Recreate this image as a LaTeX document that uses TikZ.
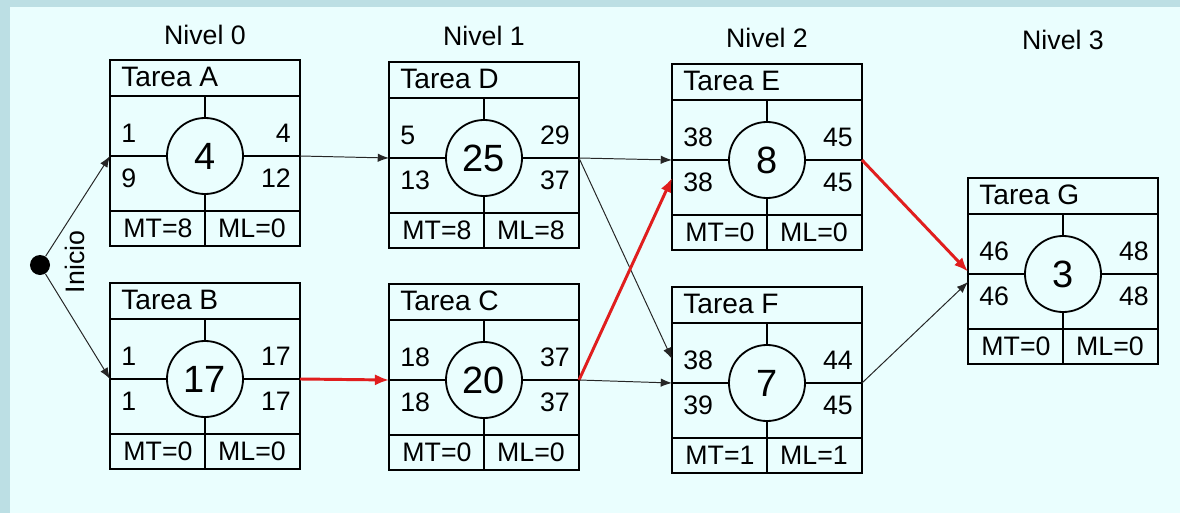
\documentclass[tikz,border=0pt]{standalone}
\usepackage{fontspec}
\setmainfont{Liberation Sans}
\usetikzlibrary{arrows.meta}

\definecolor{marco}{HTML}{BCDFE4}
\definecolor{fondo}{HTML}{EAFEFE}
\definecolor{critico}{HTML}{E01E1E}

% one task box: letter, centre, duration, the four times, MT, ML
\newcommand{\tarea}[9]{%
  \begin{scope}[shift={(#2)}]
    \draw[caja] (-95,-96) rectangle (95,90);
    \draw[caja] (-95,-60) -- (95,-60) (-95,55) -- (95,55);
    \draw[caja] (0,-60) -- (0,90) (-95,0) -- (95,0);
    \node[dur] (#1-c) at (0,0) {#3};
    \node[tit] (#1-t) at (-84,-79) {Tarea #1};
    \node[num,anchor=west] (#1-ic) at (-84,-23) {#4};
    \node[num,anchor=east] (#1-fc) at (86,-23) {#5};
    \node[num,anchor=west] (#1-it) at (-84,22) {#6};
    \node[num,anchor=east] (#1-ft) at (86,22) {#7};
    \node[num] (#1-mt) at (-47,72) {MT=#8};
    \node[num] (#1-ml) at (47,72) {ML=#9};
    \coordinate (#1-in) at (-95,0);
    \coordinate (#1-out) at (95,0);
  \end{scope}}

\begin{document}
\begin{tikzpicture}[x=0.025cm, y=-0.025cm,
  caja/.style={line width=1.3pt},
  dur/.style={circle, draw, line width=1.3pt, fill=fondo, minimum size=1.9cm,
    inner sep=0pt, font=\fontsize{27}{30}\selectfont},
  tit/.style={anchor=west, inner sep=0pt, font=\fontsize{20}{24}\selectfont},
  num/.style={inner sep=0pt, font=\fontsize{19}{22}\selectfont},
  nivel/.style={font=\fontsize{19}{22}\selectfont},
  flecha/.style={-{Latex[length=8pt,width=6pt]}, line width=0.7pt, black!85},
  ruta/.style={-{Latex[length=10pt,width=8pt]}, line width=2.1pt, critico}]

  \useasboundingbox (0,0) rectangle (1180,513);
  \fill[marco] (0,0) rectangle (1180,513);
  \fill[fondo] (10,7) rectangle (1180,513);

  \node[nivel] (n0) at (205,35) {Nivel 0};
  \node[nivel] (n1) at (484,36) {Nivel 1};
  \node[nivel] (n2) at (767,38) {Nivel 2};
  \node[nivel] (n3) at (1063,40) {Nivel 3};

  \tarea{A}{205,156}{4}{1}{4}{9}{12}{8}{0}
  \tarea{B}{205,379}{17}{1}{17}{1}{17}{0}{0}
  \tarea{D}{484,158}{25}{5}{29}{13}{37}{8}{8}
  \tarea{C}{484,380}{20}{18}{37}{18}{37}{0}{0}
  \tarea{E}{767,160}{8}{38}{45}{38}{45}{0}{0}
  \tarea{F}{767,383}{7}{38}{44}{39}{45}{1}{1}
  \tarea{G}{1063,274}{3}{46}{48}{46}{48}{0}{0}

  \node[circle, fill=black, minimum size=0.5cm, inner sep=0pt] (ini) at (40,265) {};
  \node[nivel, rotate=90] (inicio) at (75,262) {Inicio};

  \draw[flecha] (ini) -- (A-in);
  \draw[flecha] (ini) -- (B-in);
  \draw[flecha] (A-out) -- (D-in);
  \draw[ruta] (B-out) -- (C-in);
  \draw[flecha] (D-out) -- (E-in);
  \draw[flecha] (D-out) -- ([yshift=0.6cm]F-in);
  \draw[ruta] (C-out) -- ([yshift=-0.45cm]E-in);
  \draw[flecha] (C-out) -- (F-in);
  \draw[ruta] (E-out) -- ([yshift=0.06cm]G-in);
  \draw[flecha] (F-out) -- ([yshift=-0.2cm]G-in);

\end{tikzpicture}
\end{document}
